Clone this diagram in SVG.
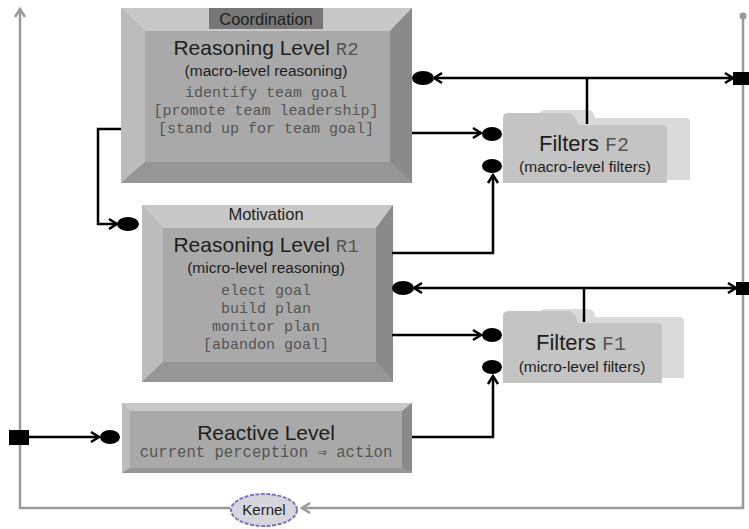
<svg xmlns="http://www.w3.org/2000/svg" width="749" height="529" viewBox="0 0 749 529">
<defs>
<style>
.sans{font-family:"Liberation Sans",Arial,sans-serif;fill:#1e1e1e}
.mono{font-family:"Liberation Mono","Courier New",monospace;fill:#555}
.title{font-size:21px}
.sub{font-size:15.5px}
.code{font-size:15px}
.tag{font-size:16.5px}
.wire{fill:none;stroke:#000;stroke-width:2.5}
.frame{fill:none;stroke:#999;stroke-width:2.5}
.dot{fill:#000}
</style>
<marker id="arr" markerUnits="userSpaceOnUse" markerWidth="14" markerHeight="14" refX="11" refY="7" orient="auto-start-reverse">
<path d="M3,2 L11,7 L3,12" fill="none" stroke="#000" stroke-width="2.5"/>
</marker>
<marker id="garr" markerUnits="userSpaceOnUse" markerWidth="14" markerHeight="14" refX="11" refY="7" orient="auto-start-reverse">
<path d="M3,2 L11,7 L3,12" fill="none" stroke="#999" stroke-width="2.5"/>
</marker>
</defs>
<rect width="749" height="529" fill="#fff"/>

<g id="frame">
<path class="frame" d="M743,17 V508 H302" marker-end="url(#garr)"/>
<path class="frame" d="M230,508 H20 V9" marker-end="url(#garr)"/>
<circle cx="743" cy="16" r="3.5" fill="#999"/>
</g>

<g id="kernel">
<ellipse cx="264" cy="510" rx="33" ry="16" fill="#d6d6dc" stroke="#7a78b8" stroke-width="2" stroke-dasharray="4 1.5"/>
<text class="sans" font-size="15" x="264" y="515" text-anchor="middle">Kernel</text>
</g>

<g id="r2">
<rect x="121" y="8" width="291" height="175" fill="#a9a9a9"/>
<polygon points="121,8 412,8 390,31 145,31" fill="#c8c8c8"/>
<polygon points="121,8 145,31 145,162 121,183" fill="#bcbcbc"/>
<polygon points="412,8 412,183 390,162 390,31" fill="#8a8a8a"/>
<polygon points="121,183 145,162 390,162 412,183" fill="#969696"/>
<rect x="209" y="8" width="114" height="21" fill="#777"/>
<text class="sans tag" x="266" y="24.5" text-anchor="middle">Coordination</text>
<text class="sans title" x="266" y="55" text-anchor="middle">Reasoning Level <tspan class="mono" font-size="19" fill="#666">R2</tspan></text>
<text class="sans sub" x="266" y="76" text-anchor="middle">(macro-level reasoning)</text>
<text class="mono code" x="266" y="97" text-anchor="middle">identify team goal</text>
<text class="mono code" x="266" y="115" text-anchor="middle">[promote team leadership]</text>
<text class="mono code" x="266" y="133" text-anchor="middle">[stand up for team goal]</text>
</g>

<g id="r1">
<rect x="142" y="205" width="251" height="177" fill="#a9a9a9"/>
<polygon points="142,205 393,205 376,228 163,228" fill="#c8c8c8"/>
<polygon points="142,205 163,228 163,362 142,382" fill="#bcbcbc"/>
<polygon points="393,205 393,382 376,362 376,228" fill="#8a8a8a"/>
<polygon points="142,382 163,362 376,362 393,382" fill="#969696"/>
<text class="sans tag" x="266" y="220" text-anchor="middle">Motivation</text>
<text class="sans title" x="266" y="252" text-anchor="middle">Reasoning Level <tspan class="mono" font-size="19" fill="#666">R1</tspan></text>
<text class="sans sub" x="266" y="273" text-anchor="middle">(micro-level reasoning)</text>
<text class="mono code" x="266" y="295" text-anchor="middle">elect goal</text>
<text class="mono code" x="266" y="313" text-anchor="middle">build plan</text>
<text class="mono code" x="266" y="331" text-anchor="middle">monitor plan</text>
<text class="mono code" x="266" y="349" text-anchor="middle">[abandon goal]</text>
</g>

<g id="reactive">
<rect x="122" y="403" width="290" height="70" fill="#a9a9a9"/>
<polygon points="122,403 412,403 402,411 130,411" fill="#c8c8c8"/>
<polygon points="122,403 130,411 130,468 122,473" fill="#bcbcbc"/>
<polygon points="412,403 412,473 402,468 402,411" fill="#8a8a8a"/>
<polygon points="122,473 130,468 402,468 412,473" fill="#969696"/>
<text class="sans title" x="266" y="440" text-anchor="middle">Reactive Level</text>
<text class="mono" font-size="15.6" x="266" y="457" text-anchor="middle">current perception ⇒ action</text>
</g>

<g id="f2">
<path d="M530,180 V124 Q530,121 534,121 H537 Q538,110 545,110 H588 Q594,110 595,118 H686 Q690,118 690,122 V180 Z" fill="#dadada"/>
<path d="M503,183 V118 Q503,113 509,113 H568 Q575,113 578,125 H663 Q667,125 667,129 V183 Z" fill="#c4c4c4"/>
<text class="sans" font-size="22" x="539" y="151">Filters <tspan class="mono" font-size="20" fill="#777">F2</tspan></text>
<text class="sans" font-size="15.5" x="585" y="172" text-anchor="middle">(macro-level filters)</text>
</g>

<g id="f1">
<path d="M530,378 V323 Q530,320 534,320 H537 Q538,309 545,309 H588 Q594,309 595,317 H680 Q684,317 684,321 V378 Z" fill="#dadada"/>
<path d="M503,383 V316 Q503,311 509,311 H568 Q575,311 578,323 H658 Q662,323 662,327 V383 Z" fill="#c4c4c4"/>
<text class="sans" font-size="22" x="536" y="350">Filters <tspan class="mono" font-size="20" fill="#777">F1</tspan></text>
<text class="sans" font-size="15.5" x="582" y="372" text-anchor="middle">(micro-level filters)</text>
</g>

<g id="connectors">
<path class="wire" d="M121,129 H98 V224 H117" marker-end="url(#arr)"/>
<ellipse class="dot" cx="128" cy="224" rx="11" ry="7"/>

<path class="wire" d="M412,133 H481" marker-end="url(#arr)"/>
<ellipse class="dot" cx="492" cy="134" rx="10" ry="7"/>

<path class="wire" d="M392,253 H493 V175" marker-end="url(#arr)"/>
<ellipse class="dot" cx="492" cy="166" rx="10" ry="7"/>

<path class="wire" d="M434,78 H733" marker-start="url(#arr)" marker-end="url(#arr)"/>
<path class="wire" d="M587,78 V124"/>
<ellipse class="dot" cx="423" cy="78" rx="11" ry="7"/>
<rect class="dot" x="733" y="72" width="16" height="13"/>

<path class="wire" d="M414,288 H736" marker-start="url(#arr)" marker-end="url(#arr)"/>
<path class="wire" d="M584,288 V322"/>
<ellipse class="dot" cx="403" cy="288" rx="11" ry="7"/>
<rect class="dot" x="736" y="282" width="13" height="13"/>

<path class="wire" d="M392,335 H481" marker-end="url(#arr)"/>
<ellipse class="dot" cx="492" cy="335" rx="10" ry="7"/>

<path class="wire" d="M412,437 H493 V376" marker-end="url(#arr)"/>
<ellipse class="dot" cx="492" cy="367" rx="10" ry="7"/>

<rect class="dot" x="9" y="430" width="20" height="15"/>
<path class="wire" d="M29,437 H99" marker-end="url(#arr)"/>
<ellipse class="dot" cx="110" cy="437" rx="10" ry="7"/>
</g>
</svg>
